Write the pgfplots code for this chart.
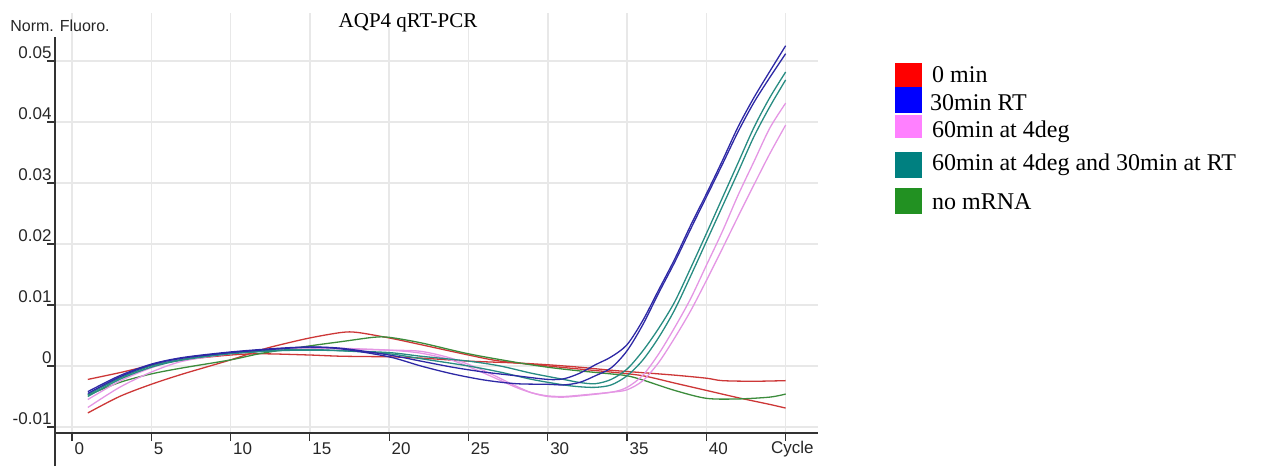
\documentclass[border=0pt]{standalone}
\usepackage{pgfplots}
\pgfplotsset{compat=1.18}
\usepackage{fontspec}
\setmainfont{Liberation Serif}
\newfontfamily\arial{Liberation Sans}
\definecolor{cRed}{RGB}{205,55,55}
\definecolor{cBlue}{RGB}{45,40,165}
\definecolor{cTeal}{RGB}{40,140,130}
\definecolor{cPink}{RGB}{228,150,228}
\definecolor{cGreen}{RGB}{60,140,60}
\definecolor{lRed}{RGB}{255,0,0}
\definecolor{lBlue}{RGB}{0,0,255}
\definecolor{lPink}{RGB}{255,128,255}
\definecolor{lTeal}{RGB}{0,128,128}
\definecolor{lGreen}{RGB}{34,145,34}
\begin{document}
\begin{tikzpicture}
\useasboundingbox (0,0) rectangle (1264pt,466pt);
\begin{axis}[
  at={(55pt,33pt)}, anchor=south west,
  scale only axis, width=763pt, height=420pt,
  xmin=-1.07, xmax=47.04, ymin=-0.010984, ymax=0.057869,
  axis line style={draw=none},
  xtick pos=bottom, ytick pos=left,
  xtick={0,5,10,15,20,25,30,35,40,45},
  xticklabels={0,5,10,15,20,25,30,35,40,{\hspace*{-17pt}Cycle}},
  ytick={-0.01,0,0.01,0.02,0.03,0.04,0.05},
  yticklabels={-0.01,0,0.01,0.02,0.03,0.04,0.05},
  tick align=outside, major tick length=8pt,
  tick style={black!80, line width=1.2pt},
  grid=major, major grid style={black!9, line width=1.5pt},
  ticklabel style={font=\arial\fontsize{17}{19}\selectfont, text=black!85},
  xticklabel style={anchor=west, xshift=-1pt, yshift=-8pt},
  yticklabel style={anchor=base east, xshift=8pt, yshift=2pt},
  every axis plot/.append style={line width=1.3pt, smooth},
]
\addplot[cRed] coordinates {(1,-0.0077)(3,-0.0050)(5,-0.0030)(7,-0.0013)(10,0.0010)(12,0.0027)(13,0.0034)(15,0.0046)(17,0.0055)(18,0.0055)(20,0.0046)(22,0.0035)(25,0.0018)(27,0.0008)(30,0.0000)(32,-0.0005)(34,-0.0010)(36,-0.0016)(38,-0.0028)(40,-0.0040)(42,-0.0052)(44,-0.0063)(45,-0.0069)};
\addplot[cRed] coordinates {(1,-0.0022)(3,-0.0011)(5,0.0001)(7,0.0010)(10,0.0018)(12,0.0020)(15,0.0018)(17,0.0016)(20,0.0015)(22,0.0013)(25,0.0008)(28,0.0005)(30,0.0002)(32,-0.0002)(34,-0.0007)(36,-0.0011)(38,-0.0015)(40,-0.0020)(41,-0.0024)(43,-0.0025)(45,-0.0024)};
\addplot[cGreen] coordinates {(1,-0.0048)(3,-0.0027)(5,-0.0013)(7,-0.0003)(10,0.0010)(12,0.0021)(15,0.0033)(17,0.0040)(19,0.0047)(20,0.0047)(22,0.0038)(25,0.0020)(28,0.0006)(30,-0.0002)(32,-0.0008)(34,-0.0013)(35,-0.0016)(36,-0.0023)(38,-0.0040)(40,-0.0053)(42,-0.0054)(44,-0.0051)(45,-0.0046)};
\addplot[cPink] coordinates {(1,-0.0068)(3,-0.0035)(5,-0.0010)(7,0.0008)(10,0.0020)(13,0.0026)(15,0.0028)(17,0.0028)(20,0.0026)(22,0.0024)(24,0.0012)(26,-0.0008)(28,-0.0033)(29,-0.0044)(30,-0.0050)(31,-0.0051)(32,-0.0049)(34,-0.0043)(35,-0.0035)(36,-0.0015)(37,0.0020)(38,0.0063)(39,0.0110)(40,0.0165)(41,0.0220)(42,0.0280)(43,0.0335)(44,0.0390)(45,0.0431)};
\addplot[cPink] coordinates {(1,-0.0055)(3,-0.0025)(5,-0.0003)(7,0.0012)(10,0.0022)(13,0.0028)(15,0.0030)(17,0.0029)(20,0.0026)(22,0.0021)(24,0.0009)(26,-0.0012)(28,-0.0035)(29,-0.0044)(30,-0.0049)(31,-0.0050)(32,-0.0048)(34,-0.0043)(35,-0.0039)(36,-0.0024)(37,0.0006)(38,0.0046)(39,0.0090)(40,0.0140)(41,0.0192)(42,0.0245)(43,0.0297)(44,0.0348)(45,0.0395)};
\addplot[cTeal] coordinates {(1,-0.0050)(3,-0.0022)(5,-0.0002)(7,0.0010)(10,0.0020)(13,0.0025)(15,0.0026)(17,0.0025)(20,0.0022)(22,0.0016)(25,0.0008)(27,0.0000)(29,-0.0012)(31,-0.0022)(32,-0.0027)(33,-0.0029)(34,-0.0022)(35,-0.0005)(36,0.0025)(37,0.0062)(38,0.0105)(39,0.0160)(40,0.0217)(41,0.0275)(42,0.0333)(43,0.0391)(44,0.0440)(45,0.0482)};
\addplot[cTeal] coordinates {(1,-0.0047)(3,-0.0020)(5,0.0000)(7,0.0011)(10,0.0021)(13,0.0026)(15,0.0027)(17,0.0025)(20,0.0020)(22,0.0012)(25,0.0000)(27,-0.0010)(29,-0.0022)(31,-0.0031)(32,-0.0034)(33,-0.0035)(34,-0.0031)(35,-0.0016)(36,0.0010)(37,0.0047)(38,0.0092)(39,0.0147)(40,0.0204)(41,0.0261)(42,0.0318)(43,0.0376)(44,0.0425)(45,0.0469)};
\addplot[cBlue] coordinates {(1,-0.0045)(3,-0.0018)(5,0.0002)(7,0.0013)(10,0.0022)(13,0.0028)(15,0.0031)(17,0.0029)(20,0.0018)(22,0.0008)(24,-0.0002)(26,-0.0010)(28,-0.0016)(30,-0.0022)(31,-0.0021)(32,-0.0012)(33,0.0002)(34,0.0015)(35,0.0035)(36,0.0075)(37,0.0125)(38,0.0175)(39,0.0230)(40,0.0282)(41,0.0336)(42,0.0392)(43,0.0440)(44,0.0483)(45,0.0525)};
\addplot[cBlue] coordinates {(1,-0.0042)(3,-0.0016)(5,0.0003)(7,0.0014)(10,0.0023)(13,0.0029)(15,0.0031)(17,0.0028)(20,0.0015)(22,0.0000)(24,-0.0013)(26,-0.0023)(28,-0.0029)(30,-0.0030)(31,-0.0031)(32,-0.0027)(33,-0.0016)(34,-0.0003)(35,0.0025)(36,0.0068)(37,0.0120)(38,0.0170)(39,0.0224)(40,0.0277)(41,0.0330)(42,0.0384)(43,0.0432)(44,0.0473)(45,0.0512)};
\end{axis}
% axis lines
\draw[black!80, line width=1.6pt] (55pt,0pt) -- (55pt,429pt);
\draw[black!80, line width=1.6pt] (55pt,33pt) -- (818pt,33pt);
% titles
\node[font=\fontsize{21}{24}\selectfont] at (408pt,443pt) {AQP4 qRT-PCR};
\node[font=\arial\fontsize{16}{18}\selectfont, text=black!85] at (60pt,440pt) {Norm. Fluoro.};
% legend
\fill[lRed]   (895pt,379pt) rectangle (922pt,403pt);
\fill[lBlue]  (895pt,353pt) rectangle (922pt,379pt);
\fill[lPink]  (895pt,328pt) rectangle (922pt,351pt);
\fill[lTeal]  (895pt,288pt) rectangle (922pt,314pt);
\fill[lGreen] (895pt,252pt) rectangle (922pt,278pt);
\begin{scope}[every node/.style={anchor=west, inner sep=0pt, font=\fontsize{24}{26}\selectfont}]
\node at (932pt,391pt) {0 min};
\node at (930pt,363pt) {30min RT};
\node at (932pt,334pt) {60min at 4deg};
\node at (932pt,301pt) {60min at 4deg and 30min at RT};
\node at (932pt,264pt) {no mRNA};
\end{scope}
\end{tikzpicture}
\end{document}
